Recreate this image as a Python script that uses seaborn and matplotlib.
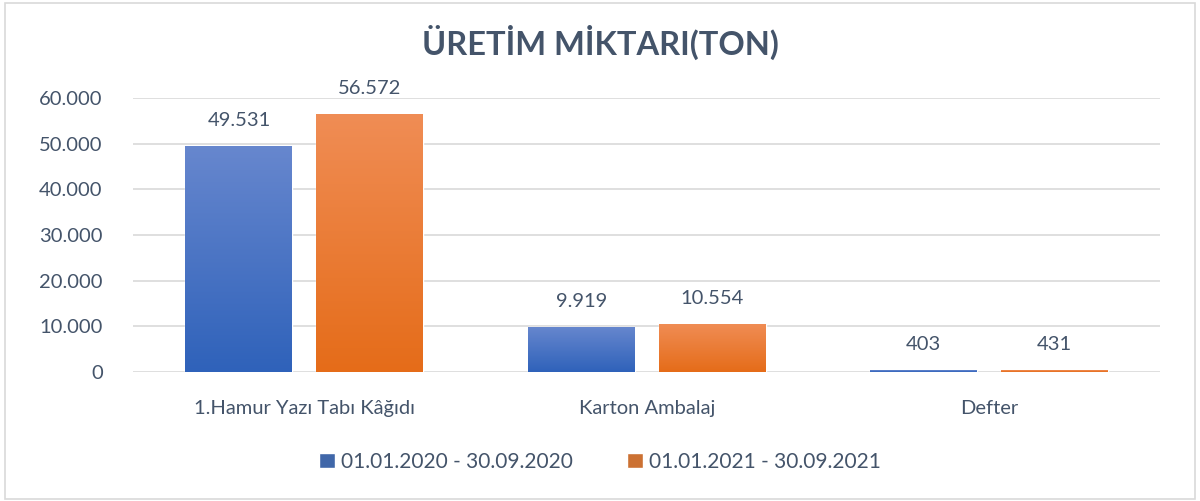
import numpy as np
import pandas as pd
import seaborn as sns
import matplotlib.pyplot as plt
from matplotlib.patches import Rectangle
from matplotlib.colors import LinearSegmentedColormap

categories = ["1.Hamur Yazı Tabı Kâğıdı", "Karton Ambalaj", "Defter"]
periods = ["01.01.2020 - 30.09.2020", "01.01.2021 - 30.09.2021"]
values_2020 = [49531, 9919, 403]
values_2021 = [56572, 10554, 431]

df = pd.DataFrame({
    "kategori": categories * 2,
    "donem": [periods[0]] * 3 + [periods[1]] * 3,
    "miktar": values_2020 + values_2021,
})

txt = "#44546A"
grid_c = "#D9D9D9"
# gradient top / bottom colours
grads = {periods[0]: ("#6787CE", "#2F62BA"), periods[1]: ("#F08D55", "#E56C19")}

sns.set_style("white")
plt.rcParams["font.family"] = ["Lato", "DejaVu Sans"]

fig = plt.figure(figsize=(12, 5.01), dpi=100)
ax = fig.add_axes([0.111, 0.2575, 0.856, 0.547])

sns.barplot(data=df, x="kategori", y="miktar", hue="donem", order=categories,
            hue_order=periods, palette=[grads[p][1] for p in periods],
            width=0.765, gap=0.184, ax=ax, legend=True, zorder=3)

ax.set_xlim(-0.5, 2.5)
ax.set_ylim(0, 60000)
ax.set_yticks(range(0, 60001, 10000))
ax.set_yticklabels([f"{v:,}".replace(",", ".") for v in range(0, 60001, 10000)])
ax.grid(axis="y", color=grid_c, linewidth=1.2, zorder=0)
for s in ax.spines.values():
    s.set_visible(False)
ax.tick_params(axis="both", length=0, labelsize=14.5, labelcolor=txt)
ax.tick_params(axis="y", pad=22)
ax.tick_params(axis="x", pad=20)
ax.set_xlabel("")
ax.set_ylabel("")

# gradient fill for each bar, clipped to the bar patch
for cont, p in zip(ax.containers, periods):
    cmap = LinearSegmentedColormap.from_list(p, [grads[p][1], grads[p][0]])
    grad = np.linspace(0, 1, 256).reshape(-1, 1)
    for bar in cont:
        x0, y0 = bar.get_x(), bar.get_y()
        w, h = bar.get_width(), bar.get_height()
        im = ax.imshow(grad, cmap=cmap, origin="lower", aspect="auto",
                       extent=[x0, x0 + w, y0, y0 + max(h, 1)], zorder=4)
        im.set_clip_path(bar)
    ax.bar_label(cont, labels=[f"{v:,.0f}".replace(",", ".") for v in cont.datavalues],
                 padding=12, fontsize=14.5, color=txt)
ax.set_xlim(-0.5, 2.5)
ax.set_ylim(0, 60000)

handles, labels = ax.get_legend_handles_labels()
ax.legend_.remove()
leg = fig.legend(handles, labels, loc="center", bbox_to_anchor=(0.5, 0.078),
                 ncol=2, frameon=False, fontsize=15, handlelength=0.75,
                 handleheight=0.75, handletextpad=0.3, columnspacing=2.6)
for t in leg.get_texts():
    t.set_color(txt)

fig.text(0.5, 0.915, "ÜRETİM MİKTARI(TON)", ha="center", va="center",
         fontsize=23.5, fontweight="bold", color=txt)

fig.patches.append(Rectangle((0.004, 0.004), 0.992, 0.99, transform=fig.transFigure,
                             fill=False, edgecolor="#D9D9D9", linewidth=1.2))

fig.savefig("out.png", dpi=100)
